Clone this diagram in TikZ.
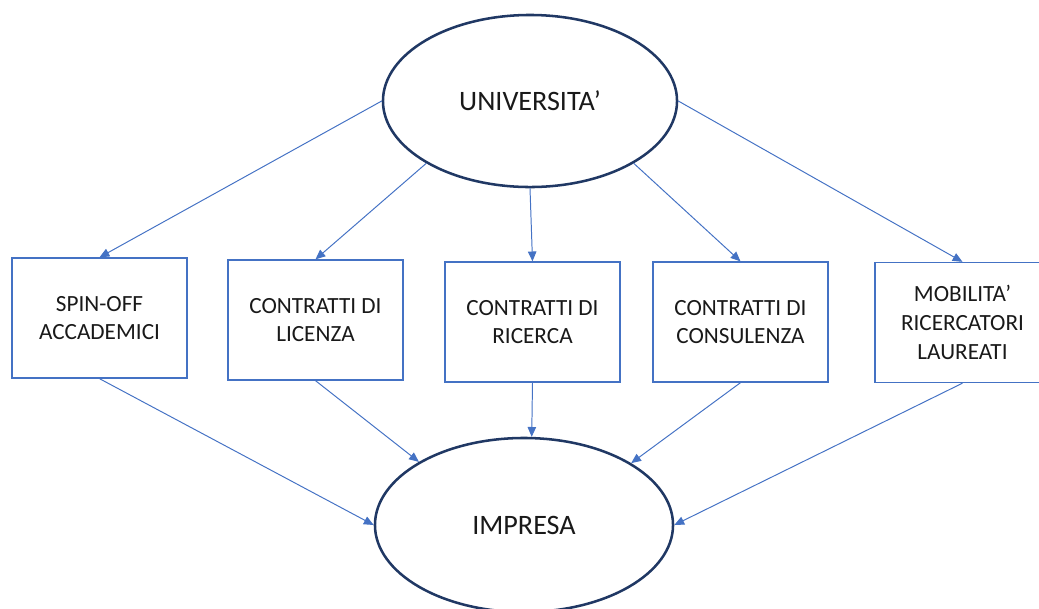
\documentclass[tikz,border=0pt]{standalone}
\usepackage{fontspec}
\setmainfont{Carlito}
\usetikzlibrary{shapes.geometric,arrows.meta,positioning}
\definecolor{navy}{HTML}{203864}
\definecolor{office}{HTML}{4472C4}
\tikzstyle{every node}+=[inner sep=1mm,align=center,text=black!90]
\tikzstyle{actor}=[ellipse,draw=navy,line width=1.8pt,font=\fontsize{20}{24}\selectfont]
\tikzstyle{channel}=[rectangle,draw=office,line width=0.9pt,minimum width=4.375cm,minimum height=3cm,font=\fontsize{16.5}{20.5}\selectfont]
\tikzstyle{flow}=[office,line width=0.7pt,-{Triangle[length=7pt,width=6pt]}]
\newcommand{\drawflows}[2][\empty]{
	\foreach \a/\b in {#2}{
		\draw[flow,#1] (\a) -- (\b);
	}
}

\begin{document}
\begin{tikzpicture}[x=0.025cm,y=-0.025cm]
\useasboundingbox (0,0) rectangle (1039,608);
% university and company
\node[actor,minimum width=7.35cm,minimum height=4.3cm] (u) at (530,101) {UNIVERSITA’};
\node[actor,minimum width=7.45cm,minimum height=4.35cm] (imp) at (524,525) {IMPRESA};

% transfer channels
\node[channel] (b1) at (99.5,318) {SPIN-OFF\\ACCADEMICI};
\node[channel] (b2) at (315.5,320) {CONTRATTI DI\\LICENZA};
\node[channel] (b3) at (532.5,322) {CONTRATTI DI\\RICERCA};
\node[channel] (b4) at (740.5,322) {CONTRATTI DI\\CONSULENZA};
\node[channel] (b5) at (962.5,322.5) {MOBILITA’\\RICERCATORI\\LAUREATI};

\drawflows{u.west/b1.north,u.211/b2.north,u.south/b3.north,u.329/b4.north,u.east/b5.north}
\drawflows{b1.south/imp.west,b2.south/imp.149,b3.south/imp.85,b4.south/imp.30,b5.south/imp.east}
\end{tikzpicture}
\end{document}
